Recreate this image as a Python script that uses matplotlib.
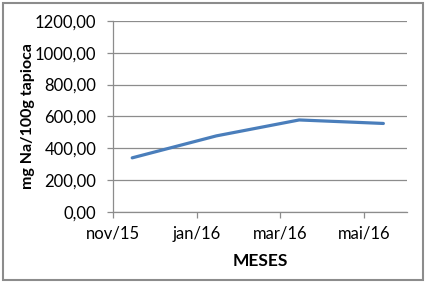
import matplotlib
matplotlib.use('Agg')
import matplotlib.pyplot as plt
import matplotlib.dates as mdates
from matplotlib.patches import Rectangle
from matplotlib.ticker import FuncFormatter, MultipleLocator
import pandas as pd

# data (points sit mid-month on an Excel date axis)
dates = pd.to_datetime(['2015-11-15', '2016-01-15', '2016-03-15', '2016-05-15'])
sodio = [340, 478, 578, 556]
meses_pt = ['jan', 'fev', 'mar', 'abr', 'mai', 'jun', 'jul', 'ago', 'set', 'out', 'nov', 'dez']

plt.rcParams['font.family'] = ['Lato', 'DejaVu Sans']

fig = plt.figure(figsize=(4.26, 2.83), dpi=100)
ax = fig.add_axes([0.265, 0.251, 0.690, 0.675])

ax.plot(dates, sodio, color='#4A7EBB', lw=2.3, solid_capstyle='round', zorder=3)

ax.set_ylim(0, 1200)
ax.yaxis.set_major_locator(MultipleLocator(200))
ax.yaxis.set_major_formatter(FuncFormatter(lambda v, p: f'{v:.2f}'.replace('.', ',')))
ax.grid(axis='y', color='#8c8c8c', lw=0.9)
ax.set_axisbelow(True)

ax.set_xlim(pd.Timestamp('2015-11-01'), pd.Timestamp('2016-06-01'))
ax.xaxis.set_major_locator(mdates.MonthLocator(bymonth=[11, 1, 3, 5]))
ax.xaxis.set_major_formatter(FuncFormatter(
    lambda v, p: f"{meses_pt[mdates.num2date(v).month - 1]}/{mdates.num2date(v).year % 100}"))

for s in ['top', 'right']:
    ax.spines[s].set_visible(False)
for s in ['left', 'bottom']:
    ax.spines[s].set_color('#8c8c8c')
    ax.spines[s].set_linewidth(0.9)
ax.tick_params(colors='#8c8c8c', labelcolor='black', labelsize=12, length=4, width=0.9)
ax.tick_params(axis='x', pad=6)
ax.tick_params(axis='y', pad=8)

ax.set_ylabel('mg Na/100g tapioca', fontsize=11.5, fontweight='bold', labelpad=0)
ax.set_xlabel('MESES', fontsize=12.5, fontweight='bold', labelpad=8)

# chart border like the Excel chart area
fig.patches.append(Rectangle((0.007, 0.012), 0.986, 0.978, transform=fig.transFigure,
                             fill=False, edgecolor='#8c8c8c', lw=1.5))

fig.savefig('out.png', dpi=100)
